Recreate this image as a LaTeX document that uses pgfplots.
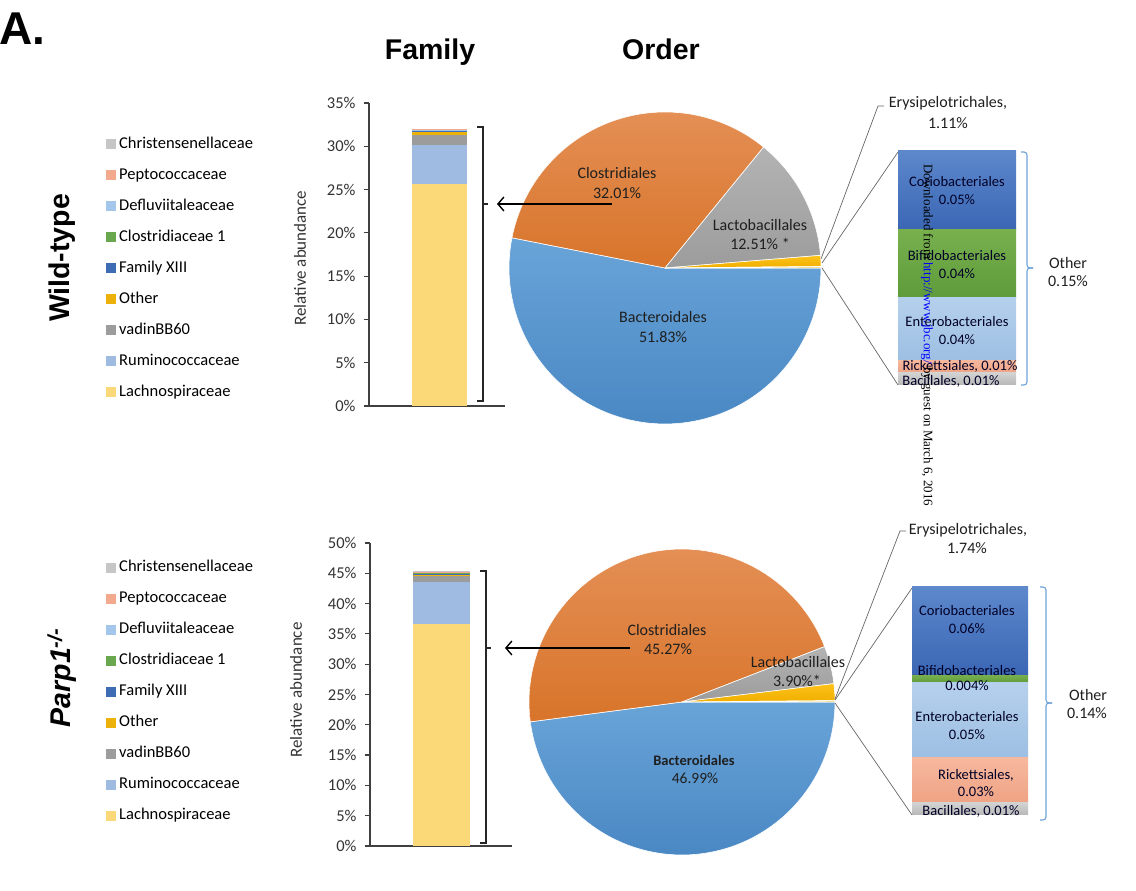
\documentclass[border=0pt]{standalone}
\usepackage{fontspec}
\setmainfont{Carlito}
\newfontfamily\arialfont{Liberation Sans}
\newfontfamily\timesfont{Liberation Serif}
\usepackage{pgfplots}
\pgfplotsset{compat=1.18}
\usetikzlibrary{arrows.meta}

\definecolor{cLach}{HTML}{FCD978}
\definecolor{cRumi}{HTML}{9FBBE2}
\definecolor{cVadi}{HTML}{9C9C9C}
\definecolor{cOthr}{HTML}{EDB10B}
\definecolor{cFam}{HTML}{3F6DB5}
\definecolor{cClo}{HTML}{6AA84F}
\definecolor{cDef}{HTML}{A4C6EA}
\definecolor{cPep}{HTML}{F3A98D}
\definecolor{cChr}{HTML}{C6C6C6}
\definecolor{axisgray}{HTML}{404040}
\definecolor{textgray}{HTML}{333333}
\definecolor{brblue}{HTML}{6FA3D8}
\definecolor{leader}{HTML}{666666}
% pie colours (top / bottom of gradient)
\definecolor{pBlueT}{HTML}{69A4D8}\definecolor{pBlueB}{HTML}{4A88C4}
\definecolor{pOrT}{HTML}{E48F55}\definecolor{pOrB}{HTML}{D8742A}
\definecolor{pGrT}{HTML}{B3B3B3}\definecolor{pGrB}{HTML}{9C9C9C}
\definecolor{pYeT}{HTML}{FFC21A}\definecolor{pYeB}{HTML}{EFAF00}
\definecolor{pOtT}{HTML}{F5D36A}\definecolor{pOtB}{HTML}{F0C24A}
% other-bar colours
\definecolor{oBacT}{HTML}{D2D2D2}\definecolor{oBacB}{HTML}{B8B8B8}
\definecolor{oRicT}{HTML}{F6B89E}\definecolor{oRicB}{HTML}{EFA384}
\definecolor{oEntT}{HTML}{B5D0EC}\definecolor{oEntB}{HTML}{9DBFE3}
\definecolor{oBifT}{HTML}{78B04E}\definecolor{oBifB}{HTML}{5E9B3A}
\definecolor{oCorT}{HTML}{5D88CC}\definecolor{oCorB}{HTML}{3A66B4}

\pgfplotsset{
  sq/.style={legend image code/.code={\fill[##1] (0pt,-5pt) rectangle (10pt,5pt);}},
  famaxis/.style={
    scale only axis, xmin=0, xmax=1, ymin=0,
    axis x line*=bottom, axis y line*=left,
    axis line style={color=axisgray, line width=1.2pt},
    xtick=\empty, tick align=outside, major tick length=5pt,
    major tick style={color=axisgray, line width=1.2pt},
    yticklabel={\pgfmathprintnumber{\tick}\%},
    /pgf/number format/assume math mode=true,
    tick label style={font=\fontsize{16.5}{19}\selectfont, color=textgray},
    yticklabel style={xshift=-5pt},
    ybar stacked, bar width=55pt,
    reverse legend, legend cell align=left,
    legend style={draw=none, fill=none, font=\fontsize{16.5}{19}\selectfont,
      anchor=north west, row sep=17pt, column sep=3pt,
      nodes={inner sep=0pt, text height=11pt, text depth=3pt}},
    ylabel={Relative abundance},
    ylabel style={font=\fontsize{17}{20}\selectfont, color=textgray, anchor=center},
    clip=false},
  pieaxis/.style={scale only axis, xmin=-1, xmax=1, ymin=-1, ymax=1, hide axis, clip=false},
  wedge/.style 2 args={top color=#1, bottom color=#2, draw=white, line width=0.6pt, samples=90},
  otheraxis/.style={scale only axis, hide axis, xmin=0, xmax=1, ymin=0, ybar stacked, clip=false},
}

% Pie data (Order, %)
\def\WTbac{51.83}\def\WTclo{32.01}\def\WTlac{12.51}\def\WTery{1.11}\def\WToth{0.15}
\def\PKbac{46.99}\def\PKclo{45.27}\def\PKlac{3.90}\def\PKery{1.74}\def\PKoth{0.14}

\begin{document}
\begin{tikzpicture}[x=1pt,y=1pt]
\pgfmathsetmacro{\WTtot}{\WTbac+\WTclo+\WTlac+\WTery+\WToth}
\pgfmathsetmacro{\WTangA}{-360*(\WTbac/\WTtot)}
\pgfmathsetmacro{\WTangB}{\WTangA-360*(\WTclo/\WTtot)}
\pgfmathsetmacro{\WTangC}{\WTangB-360*(\WTlac/\WTtot)}
\pgfmathsetmacro{\WTangD}{\WTangC-360*(\WTery/\WTtot)}
\pgfmathsetmacro{\PKtot}{\PKbac+\PKclo+\PKlac+\PKery+\PKoth}
\pgfmathsetmacro{\PKangA}{-360*(\PKbac/\PKtot)}
\pgfmathsetmacro{\PKangB}{\PKangA-360*(\PKclo/\PKtot)}
\pgfmathsetmacro{\PKangC}{\PKangB-360*(\PKlac/\PKtot)}
\pgfmathsetmacro{\PKangD}{\PKangC-360*(\PKery/\PKtot)}

% ---------------- Titles ----------------
\node[anchor=base west, inner sep=0pt, font=\arialfont\bfseries\fontsize{46}{50}\selectfont] at (-1,891-45) {A.};
\node[anchor=base, inner sep=0pt, font=\arialfont\bfseries\fontsize{28.5}{32}\selectfont] at (430,891-60) {Family};
\node[anchor=base, inner sep=0pt, font=\arialfont\bfseries\fontsize{28.5}{32}\selectfont] at (661,891-60) {Order};
\node[rotate=90, inner sep=0pt, font=\arialfont\bfseries\fontsize{28.5}{32}\selectfont] at (62,891-258) {Wild-type};
\node[rotate=90, inner sep=0pt, font=\arialfont\bfseries\itshape\fontsize{28.5}{32}\selectfont] at (62,891-678) {Parp1\textsuperscript{-/-}};

% ---------------- WT family bar ----------------
\begin{axis}[famaxis, at={(369pt,485pt)}, anchor=south west,
  width=136pt, height=303pt, ymax=35, ytick={0,5,...,35},
  legend style={at={(axis description cs:-1.956,0.895)}},
  ylabel style={at={(axis description cs:-0.507,0.488)}}]
\addplot[fill=cLach, draw=none, sq] coordinates {(0.518,25.70)}; \addlegendentry{Lachnospiraceae}
\addplot[fill=cRumi, draw=none, sq] coordinates {(0.518,4.40)};  \addlegendentry{Ruminococcaceae}
\addplot[fill=cVadi, draw=none, sq] coordinates {(0.518,1.20)};  \addlegendentry{vadinBB60}
\addplot[fill=cOthr, draw=none, sq] coordinates {(0.518,0.30)};  \addlegendentry{Other}
\addplot[fill=cFam,  draw=none, sq] coordinates {(0.518,0.15)};  \addlegendentry{Family XIII}
\addplot[fill=cClo,  draw=none, sq] coordinates {(0.518,0.05)};  \addlegendentry{Clostridiaceae 1}
\addplot[fill=cDef,  draw=none, sq] coordinates {(0.518,0.10)};  \addlegendentry{Defluviitaleaceae}
\addplot[fill=cPep,  draw=none, sq] coordinates {(0.518,0.05)};  \addlegendentry{Peptococcaceae}
\addplot[fill=cChr,  draw=none, sq] coordinates {(0.518,0.10)};  \addlegendentry{Christensenellaceae}
\end{axis}

% ---------------- Parp1 family bar ----------------
\begin{axis}[famaxis, at={(370pt,45pt)}, anchor=south west,
  width=142pt, height=303pt, ymax=50, ytick={0,5,...,50}, bar width=57pt,
  legend style={at={(axis description cs:-1.88,0.948)}},
  ylabel style={at={(axis description cs:-0.52,0.515)}}]
\addplot[fill=cLach, draw=none, sq] coordinates {(0.507,36.60)}; \addlegendentry{Lachnospiraceae}
\addplot[fill=cRumi, draw=none, sq] coordinates {(0.507,6.90)};  \addlegendentry{Ruminococcaceae}
\addplot[fill=cVadi, draw=none, sq] coordinates {(0.507,1.00)};  \addlegendentry{vadinBB60}
\addplot[fill=cOthr, draw=none, sq] coordinates {(0.507,0.30)};  \addlegendentry{Other}
\addplot[fill=cFam,  draw=none, sq] coordinates {(0.507,0.15)};  \addlegendentry{Family XIII}
\addplot[fill=cClo,  draw=none, sq] coordinates {(0.507,0.05)};  \addlegendentry{Clostridiaceae 1}
\addplot[fill=cDef,  draw=none, sq] coordinates {(0.507,0.10)};  \addlegendentry{Defluviitaleaceae}
\addplot[fill=cPep,  draw=none, sq] coordinates {(0.507,0.05)};  \addlegendentry{Peptococcaceae}
\addplot[fill=cChr,  draw=none, sq] coordinates {(0.507,0.15)};  \addlegendentry{Christensenellaceae}
\end{axis}

% ---------------- WT pie ----------------
\begin{axis}[pieaxis, at={(665pt,623pt)}, anchor=center, width=312pt, height=312pt]
\addplot[wedge={pBlueT}{pBlueB}, domain=\WTangA:0] ({cos(x)},{sin(x)}) -- (axis cs:0,0) -- cycle;
\addplot[wedge={pOrT}{pOrB}, domain=\WTangB:\WTangA] ({cos(x)},{sin(x)}) -- (axis cs:0,0) -- cycle;
\addplot[wedge={pGrT}{pGrB}, domain=\WTangC:\WTangB] ({cos(x)},{sin(x)}) -- (axis cs:0,0) -- cycle;
\addplot[wedge={pYeT}{pYeB}, domain=\WTangD:\WTangC] ({cos(x)},{sin(x)}) -- (axis cs:0,0) -- cycle;
\addplot[wedge={pOtT}{pOtB}, domain=-360:\WTangD] ({cos(x)},{sin(x)}) -- (axis cs:0,0) -- cycle;
\end{axis}

% ---------------- Parp1 pie ----------------
\begin{axis}[pieaxis, at={(682pt,189pt)}, anchor=center, width=306pt, height=306pt]
\addplot[wedge={pBlueT}{pBlueB}, domain=\PKangA:0] ({cos(x)},{sin(x)}) -- (axis cs:0,0) -- cycle;
\addplot[wedge={pOrT}{pOrB}, domain=\PKangB:\PKangA] ({cos(x)},{sin(x)}) -- (axis cs:0,0) -- cycle;
\addplot[wedge={pGrT}{pGrB}, domain=\PKangC:\PKangB] ({cos(x)},{sin(x)}) -- (axis cs:0,0) -- cycle;
\addplot[wedge={pYeT}{pYeB}, domain=\PKangD:\PKangC] ({cos(x)},{sin(x)}) -- (axis cs:0,0) -- cycle;
\addplot[wedge={pOtT}{pOtB}, domain=-360:\PKangD] ({cos(x)},{sin(x)}) -- (axis cs:0,0) -- cycle;
\end{axis}

% ---------------- WT "Other" breakdown ----------------
\begin{axis}[otheraxis, at={(898pt,506pt)}, anchor=south west, width=118pt, height=234pt,
  ymax=0.1502, bar width=118pt]
\addplot[top color=oBacT, bottom color=oBacB, draw=none] coordinates {(0.5,0.0077)};
\addplot[top color=oRicT, bottom color=oRicB, draw=none] coordinates {(0.5,0.0083)};
\addplot[top color=oEntT, bottom color=oEntB, draw=none] coordinates {(0.5,0.0400)};
\addplot[top color=oBifT, bottom color=oBifB, draw=none] coordinates {(0.5,0.0436)};
\addplot[top color=oCorT, bottom color=oCorB, draw=none] coordinates {(0.5,0.0506)};
\end{axis}

% ---------------- Parp1 "Other" breakdown ----------------
\begin{axis}[otheraxis, at={(912pt,76pt)}, anchor=south west, width=116pt, height=228pt,
  ymax=0.1520, bar width=116pt]
\addplot[top color=oBacT, bottom color=oBacB, draw=none] coordinates {(0.5,0.0080)};
\addplot[top color=oRicT, bottom color=oRicB, draw=none] coordinates {(0.5,0.0300)};
\addplot[top color=oEntT, bottom color=oEntB, draw=none] coordinates {(0.5,0.0500)};
\addplot[top color=oBifT, bottom color=oBifB, draw=none] coordinates {(0.5,0.0053)};
\addplot[top color=oCorT, bottom color=oCorB, draw=none] coordinates {(0.5,0.0587)};
\end{axis}

% ---------------- Brackets and arrows ----------------
\draw[line width=1.3pt, color=black!85] (477,891-127) -- (483,891-127) -- (483,891-401) -- (477,891-401);
\draw[line width=1.3pt, color=black!85] (483,891-204) -- (488,891-204);
\draw[line width=1.4pt, -{Straight Barb[length=6pt,width=14pt]}] (612,891-204) -- (497,891-204);

\draw[line width=1.3pt, color=black!85] (480,891-571) -- (486,891-571) -- (486,891-843) -- (480,891-843);
\draw[line width=1.3pt, color=black!85] (486,891-648) -- (491,891-648);
\draw[line width=1.4pt, -{Straight Barb[length=6pt,width=14pt]}] (630,891-648) -- (505,891-648);

\draw[line width=1.1pt, color=brblue, rounded corners=3pt] (1021,891-152) -- (1027,891-152) -- (1027,891-268) -- (1033,891-268);
\draw[line width=1.1pt, color=brblue, rounded corners=3pt] (1033,891-268) -- (1027,891-268) -- (1027,891-385) -- (1021,891-385);
\draw[line width=1.1pt, color=brblue, rounded corners=3pt] (1040,891-587) -- (1046,891-587) -- (1046,891-703) -- (1052,891-703);
\draw[line width=1.1pt, color=brblue, rounded corners=3pt] (1052,891-703) -- (1046,891-703) -- (1046,891-820) -- (1040,891-820);

% leader lines
\draw[leader, line width=0.7pt] (821,891-259) -- (878,891-106) -- (884,891-106);
\draw[leader, line width=0.7pt] (822,891-263) -- (898,891-152);
\draw[leader, line width=0.7pt] (822,891-268) -- (898,891-385);
\draw[leader, line width=0.7pt] (835,891-699) -- (900,891-531) -- (906,891-531);
\draw[leader, line width=0.7pt] (835,891-700) -- (912,891-588);
\draw[leader, line width=0.7pt] (835,891-703) -- (912,891-815);

% ---------------- Pie labels ----------------
\begin{scope}[every node/.style={inner sep=0pt, font=\fontsize{16}{19}\selectfont, color=black!88}]
\node at (617,891-173) {Clostridiales};
\node at (617,891-193) {32.01\%};
\node at (760,891-225) {Lactobacillales};
\node at (760,891-244) {12.51\% *};
\node at (663,891-317) {Bacteroidales};
\node at (663,891-337) {51.83\%};
\node at (948,891-103) {Erysipelotrichales,};
\node at (948,891-123) {1.11\%};
\node at (1068,891-263) {Other};
\node at (1068,891-281) {0.15\%};

\node at (667,891-630) {Clostridiales};
\node at (668,891-649) {45.27\%};
\node at (798,891-662) {Lactobacillales};
\node at (797,891-681) {3.90\%*};
\node[font=\bfseries\fontsize{14.5}{17}\selectfont] at (694,891-760) {Bacteroidales};
\node[font=\fontsize{15.5}{18}\selectfont] at (695,891-778) {46.99\%};
\node at (968,891-530) {Erysipelotrichales,};
\node at (967,891-548) {1.74\%};
\node at (1088,891-695) {Other};
\node at (1087,891-713) {0.14\%};
\end{scope}

% ---------------- Other-bar labels ----------------
\begin{scope}[every node/.style={inner sep=0pt, font=\fontsize{14.5}{17}\selectfont, color=black!85!blue}]
\node at (957,891-182) {Coriobacteriales};
\node at (957,891-200) {0.05\%};
\node at (957,891-256) {Bifidobacteriales};
\node at (957,891-274) {0.04\%};
\node at (957,891-322) {Enterobacteriales};
\node at (957,891-340) {0.04\%};
\node at (960,891-366) {Rickettsiales, 0.01\%};
\node at (951,891-381) {Bacillales, 0.01\%};

\node at (967,891-611) {Coriobacteriales};
\node at (967,891-629) {0.06\%};
\node at (967,891-671) {Bifidobacteriales};
\node at (967,891-686) {0.004\%};
\node at (967,891-717) {Enterobacteriales};
\node at (967,891-735) {0.05\%};
\node at (976,891-775) {Rickettsiales,};
\node at (976,891-792) {0.03\%};
\node at (971,891-811) {Bacillales, 0.01\%};
\end{scope}

% ---------------- Watermark ----------------
\node[rotate=-90, anchor=west, inner sep=0pt, font=\timesfont\fontsize{13}{15}\selectfont] at (927,891-164)
  {Downloaded from \textcolor{blue}{http://www.jbc.org/} by guest on March 6, 2016};

\pgfresetboundingbox
\path[use as bounding box] (0,0) rectangle (1136,891);
\end{tikzpicture}%
\end{document}
